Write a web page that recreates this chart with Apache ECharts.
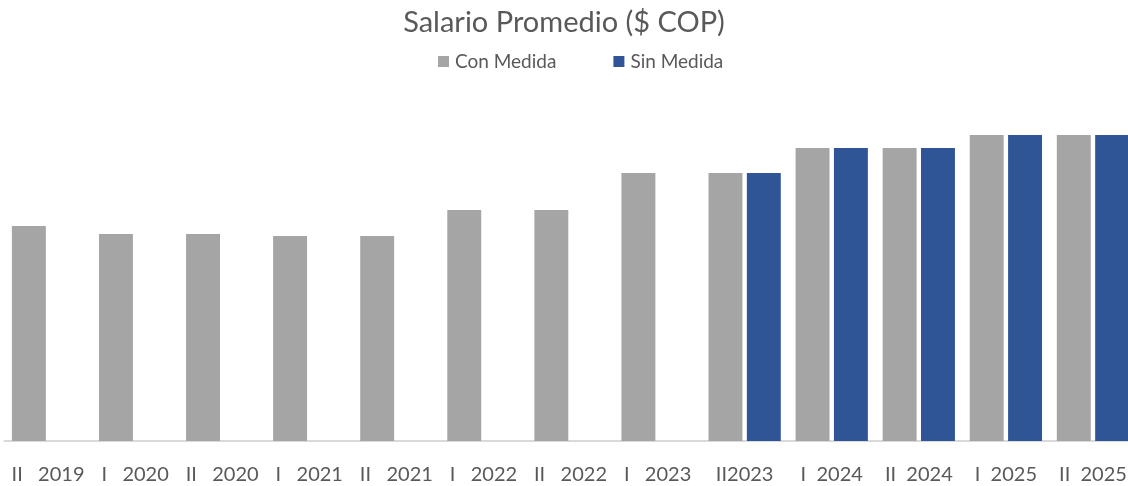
<!DOCTYPE html>
<html>
<head>
<meta charset="utf-8">
<script src="https://cdn.jsdelivr.net/npm/echarts@6/dist/echarts.min.js"></script>
<style>
  html, body { margin: 0; padding: 0; background: #fff; }
  #chart { width: 1128px; height: 486px; }
</style>
</head>
<body>
<div id="chart"></div>
<script>
// periodos (semestre y año)
var periodos = ['II   2019', 'I   2020', 'II   2020', 'I   2021', 'II   2021', 'I   2022', 'II   2022', 'I   2023',
    'II2023', 'I  2024', 'II  2024', 'I  2025', 'II  2025'];
// salario promedio en pesos
var conMedida = [1505000, 1449000, 1449000, 1435000, 1435000, 1617000, 1617000, 1876000,
    1876000, 2051000, 2051000, 2142000, 2142000];
var sinMedida = [null, null, null, null, null, null, null, null,
    1876000, 2051000, 2051000, 2142000, 2142000];

var myChart = echarts.init(document.getElementById('chart'));
var fuente = 'Lato';
var option = {
    backgroundColor: '#ffffff',
    animation: false,
    title: {
        text: 'Salario Promedio ($ COP)',
        left: 'center',
        top: 3,
        textStyle: { fontFamily: fuente, fontSize: 29, fontWeight: 'normal', color: '#595959' }
    },
    legend: {
        top: 47,
        left: 433,
        itemWidth: 11,
        itemHeight: 11,
        itemGap: 57,
        icon: 'rect',
        textStyle: { fontFamily: fuente, fontSize: 19, color: '#595959', padding: [0, 0, 0, 1] },
        data: ['Con Medida', 'Sin Medida']
    },
    // el grafico original esta recortado a la derecha
    grid: {
        left: 4.5,
        width: 1132,
        top: 84,
        bottom: 45,
        outerBoundsMode: 'none',
        containLabel: false
    },
    xAxis: {
        type: 'category',
        data: periodos,
        axisLine: { show: true, lineStyle: { color: '#d9d9d9', width: 2 } },
        axisTick: { show: false },
        axisLabel: {
            interval: 0,
            margin: 24,
            fontFamily: fuente,
            fontSize: 20,
            color: '#595959'
        }
    },
    yAxis: {
        type: 'value',
        min: 0,
        max: 2500000,
        show: false,
        splitLine: { show: false }
    },
    series: [
        {
            name: 'Con Medida',
            type: 'bar',
            data: conMedida,
            barGap: '13%',
            barCategoryGap: '17%',
            itemStyle: { color: '#a5a5a5' }
        },
        {
            name: 'Sin Medida',
            type: 'bar',
            data: sinMedida,
            itemStyle: { color: '#2f5597' }
        }
    ]
};
myChart.setOption(option);
</script>
</body>
</html>
